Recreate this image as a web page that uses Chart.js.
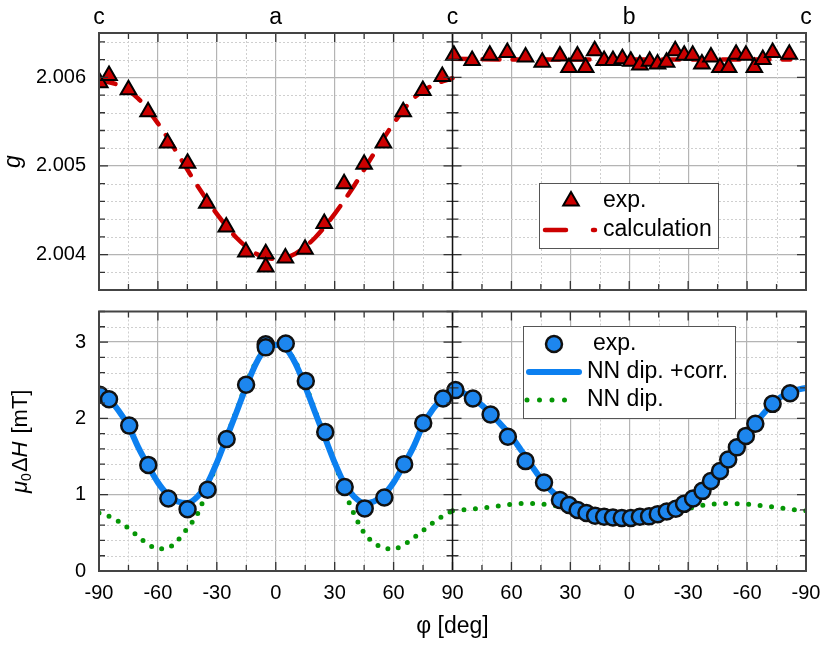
<!DOCTYPE html>
<html lang="en">
<head>
  <meta charset="UTF-8" />
  <title>g and linewidth vs angle</title>
  <script src="https://cdn.jsdelivr.net/npm/chart.js@4"></script>
  <style>
    body { margin: 0; background: #fff; }
    .wrap { position: relative; width: 830px; height: 664px; }
    .panel { position: absolute; left: 0; width: 830px; }
    #topPanel { top: 0; height: 301px; }
    #bottomPanel { top: 301px; height: 363px; }
  </style>
</head>
<body>
  <div class="wrap">
    <div class="panel" id="topPanel"><canvas id="gChart"></canvas></div>
    <div class="panel" id="bottomPanel"><canvas id="wChart"></canvas></div>
  </div>

  <script>
    // --- top panel: g factor (left: a-c rotation, right: b-c rotation) ---
    const phiExpA = [-89.6, -84.9, -75.0, -65.0, -55.1, -44.9, -35.1, -25.2, -15.2, -5.1, -5.1, 4.9, 14.9, 24.7, 34.8, 45.0, 54.8, 64.9, 74.9, 84.8];
    const gExpA = [2.00594, 2.00602, 2.00586, 2.00561, 2.00526, 2.00503, 2.00458, 2.00431, 2.00403, 2.00401, 2.00386, 2.00396, 2.00406, 2.00435, 2.00480, 2.00502, 2.00526, 2.00561, 2.00585, 2.00601];
    const phiExpB = [89.3, 80.0, 71.0, 62.1, 52.8, 44.3, 35.3, 30.7, 26.4, 22.2, 17.6, 12.8, 8.3, 3.5, -0.8, -5.4, -10.4, -14.4, -19.0, -23.4, -28.0, -32.3, -37.0, -41.6, -46.2, -50.6, -54.4, -59.4, -63.7, -68.0, -73.0, -81.5];
    const gExpB = [2.00625, 2.00619, 2.00625, 2.00628, 2.00623, 2.00617, 2.00624, 2.00611, 2.00624, 2.00611, 2.00630, 2.00619, 2.00619, 2.00621, 2.00618, 2.00614, 2.00618, 2.00615, 2.00617, 2.00630, 2.00625, 2.00625, 2.00615, 2.00623, 2.00611, 2.00611, 2.00626, 2.00625, 2.00611, 2.00620, 2.00628, 2.00626];
    const phiCalcA = [-90, -80, -70, -60, -50, -40, -30, -20, -10, 0, 10, 20, 30, 40, 50, 60, 70, 80, 90];
    const gCalcA = [2.00597, 2.00591, 2.00576, 2.00548, 2.00514, 2.00478, 2.00446, 2.00419, 2.00401, 2.00395, 2.00401, 2.00419, 2.00446, 2.00478, 2.00514, 2.00548, 2.00576, 2.00591, 2.00599];
    const phiCalcB = [90, 60, 30, 0, -30, -60, -82];
    const gCalcB = [2.00621, 2.00620, 2.00620, 2.00620, 2.00620, 2.00620, 2.00620];

    // --- bottom panel: linewidth mu0*dH in mT ---
    const phiLwA = [-89.6, -84.9, -74.6, -64.9, -54.7, -44.9, -34.7, -25.0, -15.1, -5.1, -5.1, 5.1, 15.3, 25.2, 35.1, 45.3, 55.3, 65.4, 75.1, 85.2];
    const lwExpA = [2.31, 2.25, 1.905, 1.39, 0.95, 0.81, 1.065, 1.73, 2.44, 2.97, 2.93, 2.98, 2.49, 1.82, 1.10, 0.82, 0.963, 1.40, 1.94, 2.26];
    const phiLwB = [88.5, 79.6, 70.6, 61.8, 52.8, 43.4, 35.3, 30.7, 26.3, 21.8, 17.4, 12.8, 8.3, 3.8, -0.8, -5.4, -10.1, -14.5, -19.1, -23.7, -27.9, -32.5, -37.3, -41.6, -46.2, -50.4, -54.8, -59.4, -64.2, -73.0, -81.9];
    const lwExpB = [2.37, 2.26, 2.05, 1.76, 1.44, 1.16, 0.93, 0.865, 0.80, 0.76, 0.725, 0.71, 0.70, 0.695, 0.695, 0.71, 0.716, 0.745, 0.78, 0.815, 0.88, 0.95, 1.05, 1.18, 1.31, 1.46, 1.62, 1.77, 1.93, 2.19, 2.33];

    const phiFitA = [-90, -85, -80, -75, -70, -65, -60, -55, -50, -45, -40, -35, -30, -25, -20, -15, -10, -5, 0, 5, 10, 15, 20, 25, 30, 35, 40, 45, 50, 55, 60, 65, 70, 75, 80, 85, 90];
    const corrFitA = [2.32, 2.25, 2.10, 1.90, 1.62, 1.38, 1.16, 1.00, 0.91, 0.89, 0.97, 1.14, 1.42, 1.75, 2.08, 2.42, 2.72, 2.92, 2.96, 2.92, 2.72, 2.42, 2.08, 1.75, 1.42, 1.14, 0.97, 0.89, 0.91, 1.00, 1.16, 1.38, 1.62, 1.91, 2.12, 2.26, 2.37];
    const dipFitA = [0.76, 0.72, 0.65, 0.56, 0.45, 0.35, 0.29, 0.30, 0.40, 0.56, 0.74, 1.05, 1.42, 1.76, 2.10, 2.45, 2.74, 2.91, 2.96, 2.91, 2.74, 2.45, 2.10, 1.76, 1.42, 1.05, 0.74, 0.50, 0.37, 0.30, 0.29, 0.34, 0.43, 0.53, 0.63, 0.72, 0.79];
    const phiFitB = [90, 85, 80, 75, 70, 65, 60, 55, 50, 45, 40, 35, 30, 25, 20, 15, 10, 5, 0, -5, -10, -15, -20, -25, -30, -35, -40, -45, -50, -55, -60, -65, -70, -75, -80, -85, -90];
    const corrFitB = [2.38, 2.34, 2.27, 2.17, 2.05, 1.91, 1.76, 1.58, 1.39, 1.21, 1.06, 0.95, 0.87, 0.81, 0.76, 0.73, 0.71, 0.70, 0.69, 0.70, 0.715, 0.745, 0.785, 0.83, 0.91, 1.01, 1.13, 1.28, 1.44, 1.62, 1.79, 1.96, 2.11, 2.24, 2.32, 2.37, 2.40];
    const phiDipB = [90, 80, 70, 60, 50, 40, 30, 20, 10, 0, -10, -20, -30, -40, -50, -60, -70, -80, -90];
    const dipFitB = [0.79, 0.81, 0.84, 0.875, 0.885, 0.865, 0.82, 0.76, 0.72, 0.70, 0.72, 0.76, 0.82, 0.87, 0.885, 0.875, 0.85, 0.815, 0.79];

    // axis labels
    const letterTicks = [-90, 0, 90, 180, 270];
    const letterLabels = ["c", "a", "c", "b", "c"];

    const RED = "#cc0000", BLUE = "#0c80f0", DOT_BLUE = "#1d86ee", GREEN = "#059605";
    const FAMILY = "'Liberation Sans', Arial, Helvetica, sans-serif";
    Chart.defaults.font.family = FAMILY;
    Chart.defaults.color = "#000";

    // left half of the x axis is phi itself, the right half runs back from 90 to -90
    const ptsA = (phi, v) => phi.map((p, i) => ({ x: p, y: v[i] }));
    const ptsB = (phi, v) => phi.map((p, i) => ({ x: 180 - p, y: v[i] }));

    function steps(min, max, step, major) {
      const out = [];
      const k0 = Math.ceil(min / step - 1e-6), k1 = Math.floor(max / step + 1e-6);
      for (let k = k0; k <= k1; k++) {
        const v = k * step;
        const r = v / major;
        out.push({ v, major: Math.abs(r - Math.round(r)) < 1e-6 });
      }
      return out;
    }

    // keep the plot box where the layout padding puts it
    function fixWidth(w) {
      return s => { s.width = w; s.paddingTop = 0; s.paddingBottom = 0; };
    }
    function fixHeight(h) {
      return s => { s.height = h; s.paddingLeft = 0; s.paddingRight = 0; };
    }

    // minor dotted grid, frame, inside ticks and the middle c line
    const framePlugin = {
      id: "frame",
      beforeDatasetsDraw(chart, args, o) {
        const { ctx, chartArea: a } = chart;
        const xs = chart.scales.x, ys = chart.scales.y;
        ctx.save();
        ctx.strokeStyle = "#cfcfcf";
        ctx.lineWidth = 1;
        ctx.setLineDash([2, 2]);
        ctx.beginPath();
        steps(xs.min, xs.max, o.xMinor, o.xMajor).filter(t => !t.major).forEach(t => {
          const p = Math.round(xs.getPixelForValue(t.v)) + 0.5;
          ctx.moveTo(p, a.top); ctx.lineTo(p, a.bottom);
        });
        steps(ys.min, ys.max, o.yMinor, o.yMajor).filter(t => !t.major).forEach(t => {
          const p = Math.round(ys.getPixelForValue(t.v)) + 0.5;
          ctx.moveTo(a.left, p); ctx.lineTo(a.right, p);
        });
        ctx.stroke();
        ctx.restore();
      },
      afterDatasetsDraw(chart, args, o) {
        const { ctx, chartArea: a } = chart;
        const xs = chart.scales.x, ys = chart.scales.y;
        const mid = xs.getPixelForValue(o.mid);
        ctx.save();
        ctx.strokeStyle = "#333";
        ctx.lineWidth = 1.3;
        ctx.beginPath();
        steps(xs.min, xs.max, o.xMinor, o.xMajor).forEach(t => {
          const p = xs.getPixelForValue(t.v);
          const len = t.major ? 9 : 6;
          ctx.moveTo(p, a.top); ctx.lineTo(p, a.top + len);
          ctx.moveTo(p, a.bottom); ctx.lineTo(p, a.bottom - len);
        });
        steps(ys.min, ys.max, o.yMinor, o.yMajor).forEach(t => {
          const p = ys.getPixelForValue(t.v);
          const len = t.major ? 9 : 6;
          ctx.moveTo(a.left, p); ctx.lineTo(a.left + len, p);
          ctx.moveTo(a.right, p); ctx.lineTo(a.right - len, p);
          ctx.moveTo(mid - len, p); ctx.lineTo(mid + len, p);
        });
        ctx.stroke();
        ctx.strokeStyle = "#111";
        ctx.lineWidth = 1.5;
        ctx.beginPath();
        ctx.moveTo(mid, a.top); ctx.lineTo(mid, a.bottom);
        ctx.stroke();
        ctx.strokeStyle = "#444";
        ctx.lineWidth = 2;
        ctx.strokeRect(a.left, a.top, a.right - a.left, a.bottom - a.top);
        ctx.restore();
      }
    };

    function markerPath(ctx, style, x, y, r) {
      ctx.beginPath();
      if (style === "triangle") {
        ctx.moveTo(x, y - r);
        ctx.lineTo(x + 0.866 * r, y + 0.5 * r);
        ctx.lineTo(x - 0.866 * r, y + 0.5 * r);
        ctx.closePath();
      } else {
        ctx.arc(x, y, r, 0, Math.PI * 2);
      }
    }

    // boxed legend placed inside the plot
    const boxLegend = {
      id: "boxLegend",
      afterDraw(chart, args, o) {
        const ctx = chart.ctx;
        const [bx, by, bw, bh] = o.box;
        ctx.save();
        ctx.fillStyle = "#fff";
        ctx.fillRect(bx, by, bw, bh);
        ctx.strokeStyle = "#555";
        ctx.lineWidth = 1;
        ctx.strokeRect(bx + 0.5, by + 0.5, bw, bh);
        o.rows.forEach(r => {
          const ds = chart.data.datasets[r.ds];
          if (r.kind === "point") {
            markerPath(ctx, ds.pointStyle, r.x0, r.y, ds.pointRadius);
            ctx.fillStyle = ds.backgroundColor;
            ctx.fill();
            ctx.lineWidth = ds.borderWidth;
            ctx.strokeStyle = ds.borderColor;
            ctx.stroke();
          } else {
            ctx.beginPath();
            ctx.setLineDash(r.dash || []);
            ctx.lineCap = "round";
            ctx.lineWidth = ds.borderWidth;
            ctx.strokeStyle = ds.borderColor;
            ctx.moveTo(r.x0, r.y); ctx.lineTo(r.x1, r.y);
            ctx.stroke();
            ctx.setLineDash([]);
          }
          ctx.fillStyle = "#000";
          ctx.font = `23px ${FAMILY}`;
          ctx.textBaseline = "middle";
          ctx.textAlign = "left";
          ctx.fillText(r.text, r.tx, r.y);
        });
        ctx.restore();
      }
    };

    // rotated y title made of pieces (italic symbols, subscript)
    const richTitle = {
      id: "richTitle",
      afterDraw(chart, args, o) {
        const { ctx, chartArea: a } = chart;
        ctx.save();
        ctx.translate(o.x, (a.top + a.bottom) / 2);
        ctx.rotate(-Math.PI / 2);
        ctx.fillStyle = "#000";
        ctx.textBaseline = "alphabetic";
        ctx.textAlign = "left";
        const parts = o.parts.map(p => ({ ...p, font: `${p.italic ? "italic " : ""}${p.size}px ${FAMILY}` }));
        let total = 0;
        parts.forEach(p => { ctx.font = p.font; p.w = ctx.measureText(p.text).width; total += p.w + (p.gap || 0); });
        let x = -total / 2;
        parts.forEach(p => { ctx.font = p.font; ctx.fillText(p.text, x, p.shift || 0); x += p.w + (p.gap || 0); });
        ctx.restore();
      }
    };

    const majorGrid = { color: "#b4b4b4", lineWidth: 1.2, drawTicks: false };

    new Chart(document.getElementById("gChart"), {
      type: "line",
      data: {
        datasets: [
          { label: "exp.", data: ptsA(phiExpA, gExpA), showLine: false, pointStyle: "triangle", pointRadius: 9, backgroundColor: RED, borderColor: "#000", borderWidth: 2, clip: 0 },
          { label: "exp.", data: ptsB(phiExpB, gExpB), showLine: false, pointStyle: "triangle", pointRadius: 9, backgroundColor: RED, borderColor: "#000", borderWidth: 2, clip: 0 },
          { label: "calculation", data: ptsA(phiCalcA, gCalcA), borderColor: RED, borderWidth: 4.5, borderDash: [17, 13], borderCapStyle: "round", pointRadius: 0, cubicInterpolationMode: "monotone", clip: 0 },
          { label: "calculation", data: ptsB(phiCalcB, gCalcB), borderColor: RED, borderWidth: 4.5, borderDash: [17, 13], borderCapStyle: "round", pointRadius: 0, cubicInterpolationMode: "monotone", clip: 0 }
        ]
      },
      options: {
        responsive: true,
        maintainAspectRatio: false,
        animation: false,
        layout: { padding: { left: 0, right: 24, top: 0, bottom: 1 } },
        plugins: {
          legend: { display: false },
          tooltip: { enabled: false },
          frame: { xMinor: 15, xMajor: 30, yMinor: 0.0002, yMajor: 0.001, mid: 90 },
          boxLegend: {
            box: [539, 183, 179, 65],
            rows: [
              { ds: 0, kind: "point", x0: 571, y: 201, tx: 603, text: "exp." },
              { ds: 2, kind: "line", x0: 545, x1: 595, dash: [21, 27], y: 230, tx: 603, text: "calculation" }
            ]
          },
          richTitle: { x: 19.5, parts: [{ text: "g", italic: true, size: 23 }] }
        },
        scales: {
          x: {
            type: "linear", position: "top", min: -90, max: 270,
            ticks: {
              stepSize: 30, autoSkip: false, maxRotation: 0, padding: 2,
              font: { size: 23 },
              callback: v => { const i = letterTicks.indexOf(v); return i >= 0 ? letterLabels[i] : ""; }
            },
            grid: majorGrid,
            border: { display: false },
            afterFit: fixHeight(33)
          },
          y: {
            min: 2.0036, max: 2.0065,
            ticks: { stepSize: 0.001, includeBounds: false, padding: 13, font: { size: 20 }, callback: v => v.toFixed(3) },
            grid: majorGrid,
            border: { display: false },
            afterFit: fixWidth(99)
          }
        }
      },
      plugins: [framePlugin, boxLegend, richTitle]
    });

    new Chart(document.getElementById("wChart"), {
      type: "line",
      data: {
        datasets: [
          { label: "exp.", data: ptsA(phiLwA, lwExpA), showLine: false, pointStyle: "circle", pointRadius: 8, backgroundColor: DOT_BLUE, borderColor: "#111", borderWidth: 2.5, clip: 0 },
          { label: "exp.", data: ptsB(phiLwB, lwExpB), showLine: false, pointStyle: "circle", pointRadius: 8, backgroundColor: DOT_BLUE, borderColor: "#111", borderWidth: 2.5, clip: 0 },
          { label: "NN dip. +corr.", data: ptsA(phiFitA, corrFitA), borderColor: BLUE, borderWidth: 6, borderCapStyle: "round", pointRadius: 0, cubicInterpolationMode: "monotone", clip: 0 },
          { label: "NN dip. +corr.", data: ptsB(phiFitB, corrFitB), borderColor: BLUE, borderWidth: 6, borderCapStyle: "round", pointRadius: 0, cubicInterpolationMode: "monotone", clip: 0 },
          { label: "NN dip.", data: ptsA(phiFitA, dipFitA), borderColor: GREEN, borderWidth: 5, borderDash: [0, 10.5], borderCapStyle: "round", pointRadius: 0, cubicInterpolationMode: "monotone", clip: 0 },
          { label: "NN dip.", data: ptsB(phiDipB, dipFitB), borderColor: GREEN, borderWidth: 5, borderDash: [0, 11.5], borderCapStyle: "round", pointRadius: 0, cubicInterpolationMode: "monotone", clip: 0 }
        ]
      },
      options: {
        responsive: true,
        maintainAspectRatio: false,
        animation: false,
        layout: { padding: { left: 0, right: 24, top: 3, bottom: 24 } },
        plugins: {
          legend: { display: false },
          tooltip: { enabled: false },
          frame: { xMinor: 15, xMajor: 30, yMinor: 0.2, yMajor: 1, mid: 90 },
          boxLegend: {
            box: [523, 25, 212, 92],
            rows: [
              { ds: 0, kind: "point", x0: 554, y: 43, tx: 593, text: "exp." },
              { ds: 2, kind: "line", x0: 529, x1: 579, y: 71, tx: 587, text: "NN dip. +corr." },
              { ds: 4, kind: "line", x0: 527, x1: 577, dash: [0, 12.5], y: 99, tx: 587, text: "NN dip." }
            ]
          },
          richTitle: {
            x: 27,
            parts: [
              { text: "\u03bc", italic: true, size: 22 },
              { text: "0", size: 14, shift: 4, gap: 1 },
              { text: "\u0394", size: 22 },
              { text: "H", italic: true, size: 22, gap: 8 },
              { text: "[mT]", size: 22 }
            ]
          }
        },
        scales: {
          x: {
            type: "linear", position: "bottom", min: -90, max: 270,
            ticks: {
              stepSize: 30, autoSkip: false, maxRotation: 0, padding: 10,
              font: { size: 20 },
              callback: v => String(v <= 90 ? v : 180 - v)
            },
            title: { display: true, text: "\u03c6 [deg]", font: { size: 23 }, padding: 0 },
            grid: majorGrid,
            border: { display: false },
            afterFit: fixHeight(69)
          },
          y: {
            min: 0, max: 3.4,
            ticks: { stepSize: 1, includeBounds: false, padding: 13, font: { size: 20 } },
            grid: majorGrid,
            border: { display: false },
            afterFit: fixWidth(99)
          }
        }
      },
      plugins: [framePlugin, boxLegend, richTitle]
    });
  </script>
</body>
</html>
